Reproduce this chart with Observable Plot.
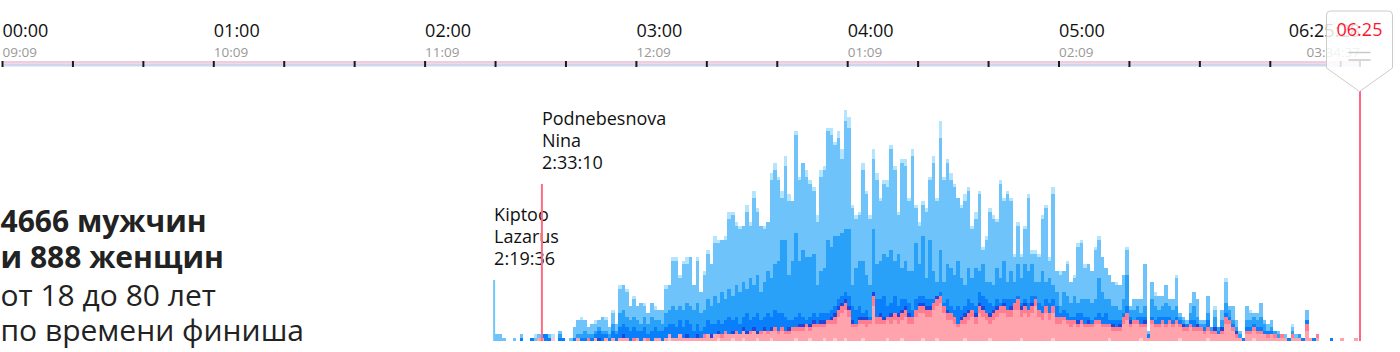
<!DOCTYPE html>
<html><head><meta charset="utf-8">
<script src="https://cdn.jsdelivr.net/npm/d3@7"></script>
<script src="https://cdn.jsdelivr.net/npm/@observablehq/plot@0.6"></script>
<style>
html,body{margin:0;padding:0;background:#fff;}
#chart svg{display:block;}
</style>
</head><body><div id="chart"></div>
<script>
// ---------- DATA (runners finishing per minute; cumulative tops of each stacked layer) ----------
const firstMinute = 140; // first bin = 2:20 net time
const total = [
2,2,1,0,0,1,0,2,0,0, 1,2,2,2,2,2,2,0,3,1, 0,1,4,6,7,6,4,5,6,6, 7,7,4,9,5,16,16,15,10,13,
10,11,11,8,11,10,9,9,16,16, 24,24,19,23,24,24,16,24,14,20, 26,22,30,29,29,30,37,37,34,33, 33,39,34,43,38,33,33,34,48,51,
47,43,53,42,40,60,47,51,49,46, 44,36,49,50,61,61,57,60,55,66, 64,39,36,37,51,43,36,55,48,41, 46,46,56,50,37,52,52,41,55,39,
34,40,38,47,53,41,63,47,52,48, 45,41,39,42,44,33,37,43,27,30, 38,36,35,46,41,43,41,25,34,25, 33,42,26,26,25,36,39,24,44,20,
20,20,23,17,19,28,29,22,22,20, 27,30,24,21,19,17,17,16,19,27, 10,12,12,12,22,3,17,14,13,13, 16,12,12,19,8,7,6,11,14,12,
6,6,13,4,10,4,9,18,10,10, 6,3,1,10,9,8,8,11,6,5, 6,3,3,2,2,1,5,2,2,1, 9,1,1,2,0,0,0,1,0,0, 1,0,0,0,1];
const lightTop = [
2,2,1,0,0,1,0,2,0,0, 1,1,2,2,2,2,1,0,3,1, 0,1,4,6,6,6,4,5,5,6, 7,6,4,8,5,15,16,14,10,12,
10,11,10,8,11,9,9,9,15,16, 23,23,18,22,22,24,16,23,14,19, 25,22,28,28,29,29,35,36,33,32, 33,37,33,41,37,33,32,34,46,49,
46,41,50,40,40,59,46,51,47,45, 43,34,47,49,60,59,56,58,52,63, 61,38,35,36,49,42,35,52,46,40, 45,44,55,49,36,51,50,40,53,38,
33,39,37,46,51,40,58,46,51,46, 44,41,38,40,43,32,35,42,26,29, 37,35,34,45,40,42,40,24,33,24, 32,41,25,25,24,35,38,23,42,20,
19,20,22,17,18,27,28,21,22,20, 26,29,24,21,19,17,16,16,19,26, 10,12,12,12,22,3,17,13,13,13, 16,12,12,18,8,7,6,11,14,12,
6,6,13,4,9,4,9,17,10,10, 6,3,1,10,8,8,8,11,6,5, 6,3,3,2,2,1,4,2,2,1, 9,1,1,2,0,0,0,1,0,0, 1,0,0,0,1];
const midTop = [
0,0,0,0,0,0,0,1,0,0, 1,0,1,2,2,1,1,0,2,1, 0,0,1,2,2,3,2,2,3,4, 3,3,2,5,3,8,9,7,6,7,
6,5,7,5,7,6,6,5,8,9, 10,9,10,9,11,10,9,11,8,9, 12,10,13,11,14,12,15,13,16,14, 17,15,18,16,19,14,17,20,18,22,
23,29,29,19,23,31,23,26,24,24, 25,16,20,21,29,27,30,30,31,32, 32,16,21,23,23,19,16,32,22,23, 25,24,26,23,25,21,23,20,20,28,
22,30,18,29,20,17,26,17,22,21, 19,23,18,16,21,18,21,20,22,17, 17,16,21,18,23,17,20,17,22,18, 22,20,22,17,17,20,17,18,16,14,
10,14,13,11,13,11,12,12,12,11, 12,18,14,12,12,10,10,9,12,19, 9,9,10,8,10,2,12,10,9,10, 11,10,9,10,7,6,5,8,10,7,
5,5,8,4,7,4,6,11,9,6, 4,2,1,6,6,7,6,7,5,3, 4,3,2,2,1,1,3,1,2,1, 6,1,1,2,0,0,0,1,0,0, 1,0,0,0,1];
const brightTop = [
0,0,0,0,0,0,0,1,0,0, 1,0,1,2,2,1,1,0,1,1, 0,0,1,1,1,1,1,1,2,3, 2,2,1,3,2,4,5,4,3,4,
3,3,4,2,3,4,3,3,4,5, 5,4,6,4,6,5,3,5,3,4, 6,5,5,6,5,6,7,6,7,5, 7,8,6,7,8,6,7,8,7,9,
8,8,7,6,6,7,8,7,6,7, 8,7,8,8,8,9,10,12,13,14, 13,10,9,10,8,9,7,14,12,12, 13,10,11,13,10,12,12,11,9,12,
13,13,12,12,12,13,14,11,12,10, 9,10,9,10,12,11,10,14,13,12, 11,10,12,11,12,12,12,12,13,11, 12,11,13,13,11,10,12,11,12,10,
8,9,8,7,7,8,8,7,7,6, 7,8,7,8,6,6,6,6,8,10, 7,6,7,7,7,2,7,6,7,7, 7,7,6,7,6,5,5,6,6,5,
4,4,6,3,4,3,4,8,7,5, 3,1,1,4,4,5,4,4,3,3, 3,2,1,2,1,1,2,1,1,1, 6,1,1,2,0,0,0,1,0,0, 1,0,0,0,1];
const darkTop = [
0,0,0,0,0,0,0,0,0,0, 0,0,1,1,0,0,1,0,0,0, 0,0,0,1,0,0,1,0,1,1, 0,1,0,1,0,1,2,1,0,1,
1,0,1,1,0,1,1,0,1,2, 1,1,2,1,2,1,1,2,1,2, 2,2,2,3,2,3,2,3,3,2, 4,3,3,4,3,3,4,3,4,4,
3,4,3,4,4,4,5,5,5,5, 6,5,6,6,6,7,8,10,11,12, 10,6,5,7,7,7,6,14,7,8, 7,7,8,8,8,9,10,8,7,9,
11,11,10,10,11,13,13,10,9,8, 7,5,7,8,9,9,8,11,10,8, 8,9,10,10,11,9,10,11,12,10, 11,9,11,12,9,8,10,8,10,7,
7,7,6,6,6,6,6,5,6,5, 6,6,5,5,5,5,4,5,7,8, 6,6,6,5,6,1,6,5,5,6, 5,6,5,6,5,5,4,5,4,5,
4,3,4,3,4,2,4,7,6,4, 3,1,0,3,3,4,3,3,2,2, 2,2,1,2,1,0,2,1,1,0, 5,1,0,2,0,0,0,0,0,0, 1,0,0,0,1];
const pinkTop = [
0,0,0,0,0,0,0,0,0,0, 0,0,1,1,0,0,1,0,0,0, 0,0,0,1,0,0,1,0,1,0, 0,1,0,1,0,1,1,1,0,1,
1,0,1,1,0,1,1,0,1,2, 1,1,2,1,1,1,1,1,1,2, 2,1,2,2,2,3,2,2,3,2, 3,2,3,3,2,3,3,3,3,4,
3,4,3,3,4,4,4,4,5,4, 5,5,5,5,6,6,7,9,10,11, 9,5,5,6,6,6,6,13,7,7, 6,7,7,8,7,8,9,7,7,9,
10,10,9,9,11,12,13,10,8,8, 7,5,6,7,8,9,7,10,9,8, 7,8,9,10,10,9,9,11,12,9, 10,9,10,12,9,8,10,8,10,7,
7,7,6,6,6,5,6,5,5,5, 6,6,5,5,5,4,4,4,7,8, 5,6,6,5,5,1,6,5,5,6, 5,6,5,6,5,4,4,5,4,4,
4,3,4,3,3,2,3,7,6,4, 2,1,0,3,3,4,3,3,2,2, 2,2,1,2,1,0,2,1,1,0, 5,1,0,2,0,0,0,0,0,0, 1,0,0,0,1];
const lightPinkTop = [
0,0,0,0,0,0,0,0,0,0, 0,0,1,1,0,0,1,0,0,0, 0,0,0,1,0,0,0,0,1,0, 0,1,0,1,0,1,1,1,0,0,
1,0,1,0,0,1,1,0,1,2, 1,1,2,1,1,1,1,1,1,1, 2,1,2,2,1,2,2,2,2,2, 3,2,2,3,2,2,3,2,3,3,
2,3,2,2,3,3,3,3,4,3, 4,4,4,4,5,5,5,7,8,9, 7,4,4,5,5,4,5,10,5,5, 5,6,5,6,5,6,7,5,5,7,
8,8,7,7,9,10,11,8,6,6, 5,4,5,5,6,7,5,8,7,6, 5,6,7,8,8,7,7,9,9,7, 8,7,8,10,7,6,8,6,8,5,
5,6,5,4,5,4,5,4,4,4, 5,5,4,4,4,3,3,3,5,6, 4,5,5,4,4,1,5,4,4,5, 4,5,4,5,4,3,3,4,3,3,
3,2,3,2,2,2,2,5,5,3, 1,1,0,2,2,3,2,2,2,1, 2,1,1,1,1,0,1,1,1,0, 3,1,0,1,0,0,0,0,0,0, 1,0,0,0,1];
const paleTop = [
0,0,0,0,0,0,0,0,0,0, 0,0,0,0,0,0,1,0,0,0, 0,0,0,0,0,0,0,0,0,0, 0,0,0,0,0,0,0,0,0,0,
0,0,0,0,0,0,0,0,0,1, 0,0,0,0,0,0,0,0,0,0, 0,0,0,1,0,0,0,1,0,0, 1,0,0,0,1,0,0,0,1,0,
0,0,0,0,0,1,0,0,0,1, 0,0,0,1,0,0,1,0,0,1, 0,0,0,0,1,0,0,0,0,0, 0,1,0,0,0,1,0,0,0,0,
0,1,0,0,0,1,0,0,0,0, 0,0,0,1,0,0,0,0,0,0, 1,0,0,0,0,0,0,0,0,1, 0,0,0,0,0,0,0,0,1,0,
0,0,0,0,0,0,0,0,0,0, 0,0,0,0,1,0,0,0,0,0, 0,0,0,1,0,0,0,0,0,0, 0,0,0,0,1,0,0,0,0,0,
0,0,1,0,0,0,0,0,0,0, 0,0,0,0,0,1,0,0,0,0, 0,0,0,0,0,0,0,0,0,0, 0,0,0,0,0,0,0,0,0,0, 0,0,0,0,0];

const hourTicks = ["00:00","01:00","02:00","03:00","04:00","05:00"];
const clockTicks = ["09:09","10:09","11:09","12:09","01:09","02:09"];
const cutoffTime = "6:25:28";
const cutoffLabel = "06:25:28";
const cutoffClock = "03:34:37";
const cutoffShort = "06:25";
const winners = [
  {name: "Kiptoo\nLazarus", time: "2:19:36", sex: "m"},
  {name: "Podnebesnova\nNina", time: "2:33:10", sex: "w"}
];
const headline = ["4666 мужчин", "и 888 женщин"];
const subline = ["от 18 до 80 лет", "по времени финиша"];

// ---------- STYLE / LAYOUT ----------
const layerStyle = [
  ["total", "#b5e5fc"], ["lightTop", "#6ec4fa"], ["midTop", "#2aa1f8"], ["brightTop", "#0a7ffb"],
  ["darkTop", "#1f47d9"], ["pinkTop", "#ff7d8e"], ["lightPinkTop", "#ffa3ad"], ["paleTop", "#ffc8cf"]
];
const winnerStyle = {
  m: {color: "#72c6fb", baseline: 218, ruleTop: 280},
  w: {color: "#ff6b80", baseline: 122, ruleTop: 184}
};
const FONT = "Open Sans, Noto Sans, sans-serif";
const pxPerMinute = 211.3 / 60;
const baseline = 341, pxPerRunner = 3.5;

const toMin = s => { const [h, m, sec] = s.split(":").map(Number); return h * 60 + m + (sec || 0) / 60; };
const cutoff = toMin(cutoffTime);
const seriesByKey = {total, lightTop, midTop, brightTop, darkTop, pinkTop, lightPinkTop, paleTop};
const bins = total.map((_, i) => {
  const o = {m: firstMinute + i};
  for (const k in seriesByKey) o[k] = seriesByKey[k][i];
  return o;
});
const hourData = hourTicks.map((t, i) => ({t, c: clockTicks[i], m: toMin(t)}));
const tickData = d3.range(0, cutoff, 20).concat([cutoff]);

const marks = [];
// header stripe and ticks
marks.push(Plot.rect([0], {x1: () => 0, x2: () => cutoff, insetTop: 61, insetBottom: baseline - 63.5, fill: "#f4cbdc"}));
marks.push(Plot.rect([0], {x1: () => 0, x2: () => cutoff, insetTop: 63.5, insetBottom: baseline - 66.5, fill: "#cfd7ef"}));
marks.push(Plot.ruleX(tickData, {x: d => d, insetTop: 61, insetBottom: baseline - 67, stroke: "#1a1a1a", strokeWidth: 2}));
marks.push(Plot.text(hourData, {x: "m", text: "t", frameAnchor: "top", lineAnchor: "top", dy: 36 - 0.71 * 18, textAnchor: "start", fontSize: 18, fill: "#111", fontFamily: FONT}));
marks.push(Plot.text(hourData, {x: "m", text: "c", frameAnchor: "top", lineAnchor: "top", dy: 56 - 0.71 * 13.5, textAnchor: "start", fontSize: 13.5, fill: "#999", fontFamily: FONT}));
marks.push(Plot.text([cutoffLabel], {x: () => cutoff, text: d => d, frameAnchor: "top", lineAnchor: "top", dy: 36 - 0.71 * 18, textAnchor: "end", fontSize: 18, fill: "#111", fontFamily: FONT}));
marks.push(Plot.text([cutoffClock], {x: () => cutoff, text: d => d, frameAnchor: "top", lineAnchor: "top", dy: 56 - 0.71 * 13.5, textAnchor: "end", fontSize: 13.5, fill: "#999", fontFamily: FONT}));
// histogram layers (cumulative tops, drawn tallest first)
for (const [k, c] of layerStyle) {
  marks.push(Plot.rect(bins.filter(d => d[k] > 0), {x1: "m", x2: d => d.m + 1, y1: () => 0, y2: k, fill: c, shapeRendering: "crispEdges"}));
}
// winners
for (const w of winners) {
  const st = winnerStyle[w.sex];
  marks.push(Plot.ruleX([w], {x: d => toMin(d.time), insetTop: st.ruleTop, stroke: st.color, strokeWidth: 2}));
  marks.push(Plot.text([w], {x: d => toMin(d.time), text: d => d.name + "\n" + d.time, frameAnchor: "top", lineAnchor: "top",
    dy: st.baseline - 0.71 * 18, textAnchor: "start", fontSize: 18, lineHeight: 22 / 18, fill: "#111", fontFamily: FONT}));
}
// cutoff line
marks.push(Plot.ruleX([cutoff], {x: d => d, insetTop: 91, stroke: "#ff6680", strokeWidth: 2}));
// left text block
marks.push(Plot.text([headline.join("\n")], {frameAnchor: "top-left", lineAnchor: "top", dy: 226.7 - 0.71 * 30, textAnchor: "start",
  fontSize: 30, fontWeight: "bold", lineHeight: 36.5 / 30, fill: "#222", fontFamily: FONT}));
marks.push(Plot.text([subline.join("\n")], {frameAnchor: "top-left", lineAnchor: "top", dy: 301.5 - 0.71 * 30, textAnchor: "start",
  fontSize: 30, lineHeight: 35.5 / 30, fill: "#222", fontFamily: FONT}));

const plot = Plot.plot({
  width: 1400, height: 352,
  marginTop: 0, marginBottom: 352 - baseline, marginLeft: 0, marginRight: 0,
  x: {type: "linear", domain: [0, 60], range: [2, 2 + 60 * pxPerMinute], axis: null},
  y: {type: "linear", domain: [0, baseline / pxPerRunner], range: [baseline, 0], axis: null},
  style: {fontFamily: FONT, background: "#fff", overflow: "visible"},
  marks
});
document.getElementById("chart").appendChild(plot);

// slider handle on top of the cutoff
const cx = plot.scale("x").apply(cutoff);
const svg = d3.select(plot);
const g = svg.append("g");
g.append("path")
  .attr("d", `M${cx - 33},68 L${cx - 33},15 Q${cx - 33},11 ${cx - 29},11 L${cx + 29},11 Q${cx + 33},11 ${cx + 33},15 L${cx + 33},68 L${cx},91.5 Z`)
  .attr("fill", "#fff").attr("fill-opacity", 0.86).attr("stroke", "#cccccc").attr("stroke-width", 1);
g.append("text").attr("x", cx).attr("y", 36).attr("text-anchor", "middle")
  .attr("font-size", 18).attr("font-family", FONT).attr("fill", "#ff1530").text(cutoffShort);
g.append("line").attr("x1", cx - 11).attr("x2", cx + 11).attr("y1", 52.5).attr("y2", 52.5).attr("stroke", "#c8c8c8").attr("stroke-width", 1.5);
g.append("line").attr("x1", cx - 11).attr("x2", cx + 11).attr("y1", 60).attr("y2", 60).attr("stroke", "#c8c8c8").attr("stroke-width", 1.5);
</script>
</body></html>
